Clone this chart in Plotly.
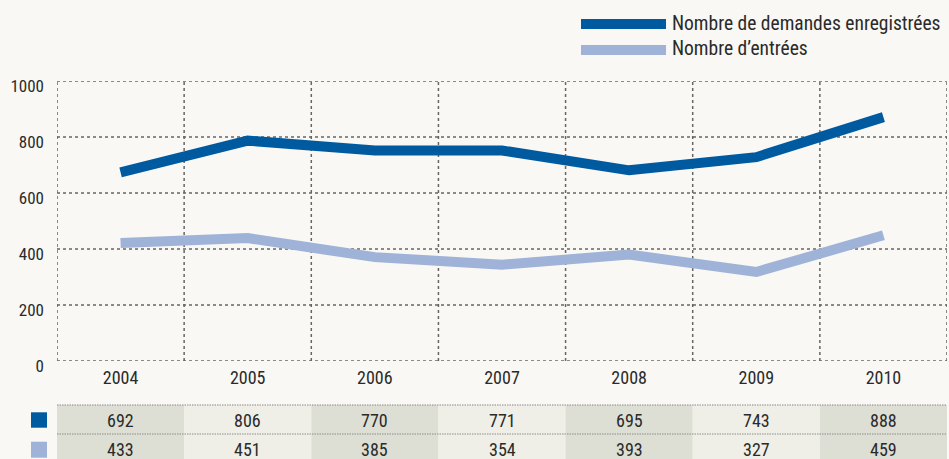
import plotly.graph_objects as go

# ---- data ----
years = ["2004", "2005", "2006", "2007", "2008", "2009", "2010"]
# values as drawn by the lines
demandes_line = [674, 787, 752, 752, 681, 728, 871]
entrees_line = [421, 439, 371, 344, 380, 318, 449]
# values printed in the table
demandes_table = [692, 806, 770, 771, 695, 743, 888]
entrees_table = [433, 451, 385, 354, 393, 327, 459]
series_names = ["Nombre de demandes enregistrées", "Nombre d\u2019entrées"]
y_ticks = [0, 200, 400, 600, 800, 1000]

# ---- style ----
FONT = "Liberation Sans Narrow, Arial Narrow, Roboto Condensed, sans-serif"
TXT = "#2a2a2a"
BG = "#f9f8f4"
DARK = "#005aa0"
LIGHT = "#9fb2d8"
GRID = "#666666"
CELL_DARK = "#dedfd4"
CELL_LIGHT = "#efefe7"
DASH = "3px,3px"

W, H = 949, 459
ML, MR, MT, MB = 57, 2, 81, 98
PH = H - MT - MB


def py(pix):
    return (H - MB - pix) / PH


def px(pix):
    return (pix - ML) / (W - ML - MR)


fig = go.Figure()
fig.add_trace(go.Scatter(x=years, y=demandes_line, mode="lines",
                         line=dict(color=DARK, width=10), name=series_names[0],
                         showlegend=False, hoverinfo="skip"))
fig.add_trace(go.Scatter(x=years, y=entrees_line, mode="lines",
                         line=dict(color=LIGHT, width=10), name=series_names[1],
                         showlegend=False, hoverinfo="skip"))

shapes = []
n = len(years)
# vertical dotted grid lines at category boundaries
for i in range(n + 1):
    shapes.append(dict(type="line", xref="x", yref="paper", x0=i - 0.5, x1=i - 0.5,
                       y0=0, y1=1, layer="below",
                       line=dict(color=GRID, width=1.5, dash=DASH)))
# horizontal dotted grid lines at y ticks
for v in y_ticks:
    shapes.append(dict(type="line", xref="paper", yref="y", x0=0, x1=1,
                       y0=v, y1=v, layer="below",
                       line=dict(color=GRID, width=1.5, dash=DASH)))

# table cells
row_tops = [py(405), py(434)]
row_bots = [py(434), py(465)]
for r in range(2):
    for i in range(n):
        shapes.append(dict(type="rect", xref="x", yref="paper", x0=i - 0.5, x1=i + 0.5,
                           y0=row_bots[r], y1=row_tops[r], layer="below",
                           fillcolor=CELL_DARK if i % 2 == 0 else CELL_LIGHT,
                           line=dict(width=0)))
    shapes.append(dict(type="line", xref="x", yref="paper", x0=-0.5, x1=n - 0.5,
                       y0=row_tops[r], y1=row_tops[r], layer="above",
                       line=dict(color="#8a8a8a", width=1, dash="1.5px,1px")))

# table row markers
marker_rows = [(412.3, 427.7, DARK), (441.7, 457.7, LIGHT)]
for y0, y1, c in marker_rows:
    shapes.append(dict(type="rect", xref="paper", yref="paper", x0=px(31), x1=px(47),
                       y0=py(y1), y1=py(y0), fillcolor=c, line=dict(width=0)))

# legend samples
for yc, c in [(24, DARK), (50, LIGHT)]:
    shapes.append(dict(type="line", xref="paper", yref="paper", x0=px(581), x1=px(666),
                       y0=py(yc), y1=py(yc), line=dict(color=c, width=10)))

annotations = []
for i, y in enumerate(years):
    annotations.append(dict(xref="x", yref="paper", x=i, y=py(420.5), text=str(demandes_table[i]),
                            showarrow=False, xanchor="center", yanchor="middle",
                            font=dict(family=FONT, size=18, color=TXT)))
    annotations.append(dict(xref="x", yref="paper", x=i, y=py(449.5), text=str(entrees_table[i]),
                            showarrow=False, xanchor="center", yanchor="middle",
                            font=dict(family=FONT, size=18, color=TXT)))
for yc, name in [(23, series_names[0]), (49, series_names[1])]:
    annotations.append(dict(xref="paper", yref="paper", x=px(670), y=py(yc), text=name,
                            showarrow=False, xanchor="left", yanchor="middle",
                            font=dict(family=FONT, size=19.5, color=TXT)))

fig.update_layout(
    width=W, height=H,
    margin=dict(l=ML, r=MR, t=MT, b=MB),
    paper_bgcolor=BG, plot_bgcolor=BG,
    showlegend=False,
    shapes=shapes, annotations=annotations,
    xaxis=dict(type="category", categoryorder="array", categoryarray=years,
               range=[-0.5, n - 0.5], showgrid=False, zeroline=False, showline=False,
               ticks="", tickfont=dict(family=FONT, size=18, color=TXT),
               ticklabelstandoff=4, fixedrange=True),
    yaxis=dict(range=[0, 1000], tickvals=y_ticks, ticktext=[str(v) for v in y_ticks],
               showgrid=False, zeroline=False, showline=False, ticks="",
               tickfont=dict(family=FONT, size=17, color=TXT),
               ticklabelstandoff=12, ticklabelshift=5, fixedrange=True),
)

fig.write_html("out.html", config={"displayModeBar": False},
               post_script="document.body.style.margin='0';document.body.style.background='%s';" % BG)
